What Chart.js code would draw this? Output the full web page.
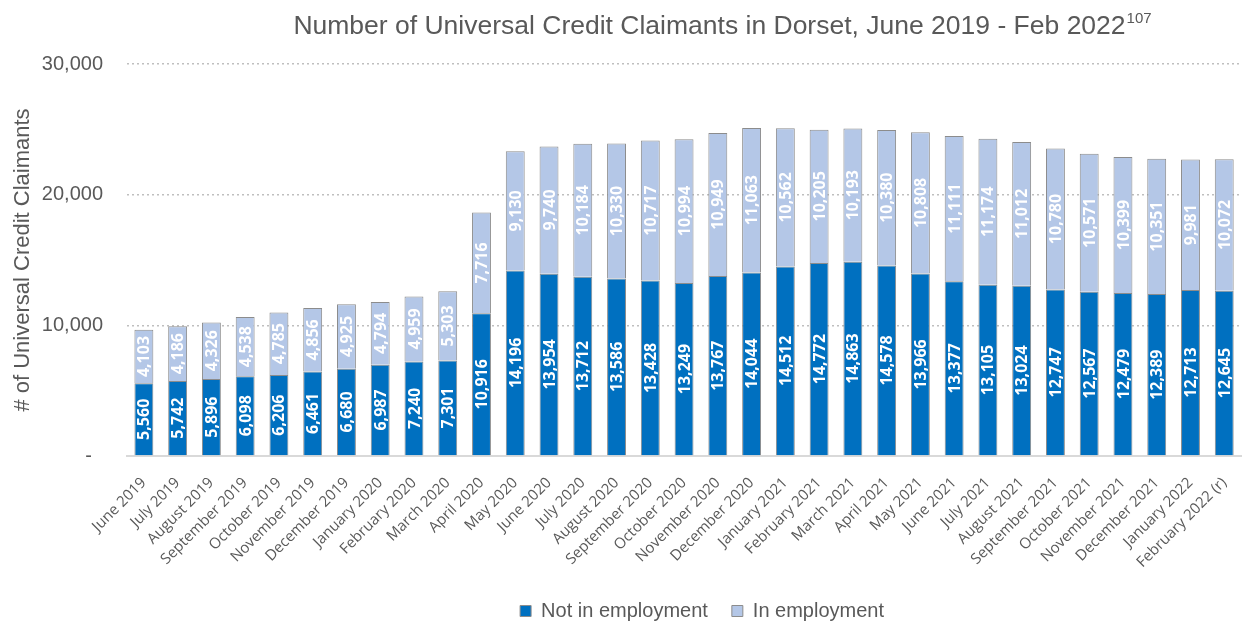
<!DOCTYPE html>
<html>
<head>
<meta charset="utf-8">
<script src="https://cdn.jsdelivr.net/npm/chart.js@4"></script>
<style>
  html, body { margin: 0; padding: 0; background: #fff; }
  #wrap { width: 1247px; height: 624px; }
</style>
</head>
<body>
<div id="wrap"><canvas id="ucChart" width="1247" height="624"></canvas></div>
<script>
// Universal Credit claimants, Dorset
const months = [
  'June 2019', 'July 2019', 'August 2019', 'September 2019', 'October 2019', 'November 2019',
  'December 2019', 'January 2020', 'February 2020', 'March 2020', 'April 2020', 'May 2020',
  'June 2020', 'July 2020', 'August 2020', 'September 2020', 'October 2020', 'November 2020',
  'December 2020', 'January 2021', 'February 2021', 'March 2021', 'April 2021', 'May 2021',
  'June 2021', 'July 2021', 'August 2021', 'September 2021', 'October 2021', 'November 2021',
  'December 2021', 'January 2022', 'February 2022 (r)'
];
const notInEmployment = [
  5560, 5742, 5896, 6098, 6206, 6461, 6680, 6987, 7240, 7301, 10916, 14196,
  13954, 13712, 13586, 13428, 13249, 13767, 14044, 14512, 14772, 14863, 14578, 13966,
  13377, 13105, 13024, 12747, 12567, 12479, 12389, 12713, 12645
];
const inEmployment = [
  4103, 4186, 4326, 4538, 4785, 4856, 4925, 4794, 4959, 5303, 7716, 9130,
  9740, 10184, 10330, 10717, 10994, 10949, 11063, 10562, 10205, 10193, 10380, 10808,
  11111, 11174, 11012, 10780, 10571, 10399, 10351, 9981, 10072
];
const yTicks = [0, 10000, 20000, 30000];

const grey = '#595959';

// value labels written vertically inside each segment
const barLabels = {
  id: 'barLabels',
  afterDatasetsDraw(chart) {
    const ctx = chart.ctx;
    ctx.save();
    ctx.fillStyle = '#fff';
    ctx.font = 'bold 16px "Open Sans", sans-serif';
    ctx.textAlign = 'center';
    ctx.textBaseline = 'middle';
    chart.data.datasets.forEach((ds, i) => {
      chart.getDatasetMeta(i).data.forEach((bar, j) => {
        const mid = (bar.y + bar.base) / 2;
        ctx.save();
        ctx.translate(bar.x + 1, mid);
        ctx.rotate(-Math.PI / 2);
        ctx.fillText(ds.data[j].toLocaleString('en-GB'), 0, 0);
        ctx.restore();
      });
    });
    ctx.restore();
  }
};

// title with superscript footnote marker
const titleSup = {
  id: 'titleSup',
  afterDraw(chart) {
    const ctx = chart.ctx;
    const main = 'Number of Universal Credit Claimants in Dorset, June 2019 - Feb 2022';
    const sup = '107';
    ctx.save();
    ctx.fillStyle = grey;
    ctx.textBaseline = 'alphabetic';
    ctx.font = '26.5px "Liberation Sans", Arial, sans-serif';
    const w1 = ctx.measureText(main).width;
    ctx.font = '15px "Liberation Sans", Arial, sans-serif';
    const w2 = ctx.measureText(sup).width;
    const x0 = 722 - (w1 + w2) / 2;
    ctx.font = '26.5px "Liberation Sans", Arial, sans-serif';
    ctx.textAlign = 'left';
    ctx.fillText(main, x0, 34);
    ctx.font = '15px "Liberation Sans", Arial, sans-serif';
    ctx.fillText(sup, x0 + w1 + 1, 23);
    ctx.restore();
  }
};

// legend a touch lower and right; let the rotated month labels run past the axis box
const layoutTweak = {
  id: 'layoutTweak',
  afterLayout(chart) {
    const lg = chart.legend;
    if (lg) {
      lg.top += 7;
      lg.bottom += 7;
      lg.left += 18;
      lg.right += 18;
    }
    chart.scales.x.bottom = chart.height;
  }
};

new Chart(document.getElementById('ucChart'), {
  type: 'bar',
  data: {
    labels: months,
    datasets: [
      {
        label: 'Not in employment',
        data: notInEmployment,
        backgroundColor: '#0070C0',
        borderColor: '#8C8C8C',
        borderWidth: 1,
        barPercentage: 0.56,
        categoryPercentage: 1
      },
      {
        label: 'In employment',
        data: inEmployment,
        backgroundColor: '#B4C7E7',
        borderColor: '#8C8C8C',
        borderWidth: 1,
        barPercentage: 0.56,
        categoryPercentage: 1
      }
    ]
  },
  options: {
    responsive: false,
    animation: false,
    layout: { padding: { top: 64, right: 2, left: 2, bottom: 0 } },
    scales: {
      x: {
        stacked: true,
        grid: { display: false },
        border: { color: '#D9D9D9', width: 2 },
        afterFit: s => { s.paddingLeft = 0; s.height = 114; },
        ticks: {
          color: grey,
          font: { family: '"Open Sans", sans-serif', size: 15 },
          maxRotation: 45,
          minRotation: 45,
          autoSkip: false,
          padding: 10
        }
      },
      y: {
        stacked: true,
        min: 0,
        max: 30000,
        afterBuildTicks: axis => { axis.ticks = yTicks.map(v => ({ value: v })); },
        afterFit: s => { s.width = 125; },
        border: { display: false, dash: [2, 3] },
        grid: {
          color: c => c.tick.value === 0 ? 'rgba(0,0,0,0)' : '#BFBFBF',
          lineWidth: 1.5,
          drawTicks: false
        },
        ticks: {
          color: grey,
          font: { family: '"Liberation Sans", Arial, sans-serif', size: 20 },
          padding: 24,
          callback: v => v === 0 ? '-  ' : v.toLocaleString('en-GB')
        },
        title: {
          display: true,
          text: '# of Universal Credit Claimants',
          color: grey,
          font: { family: '"Liberation Sans", Arial, sans-serif', size: 22 },
          padding: { top: 8, bottom: 2 }
        }
      }
    },
    plugins: {
      title: { display: false },
      tooltip: { enabled: false },
      legend: {
        position: 'bottom',
        fullSize: false,
        labels: {
          color: grey,
          font: { family: '"Liberation Sans", Arial, sans-serif', size: 20 },
          boxWidth: 11,
          boxHeight: 11,
          padding: 24
        }
      }
    }
  },
  plugins: [barLabels, titleSup, layoutTweak]
});
</script>
</body>
</html>
